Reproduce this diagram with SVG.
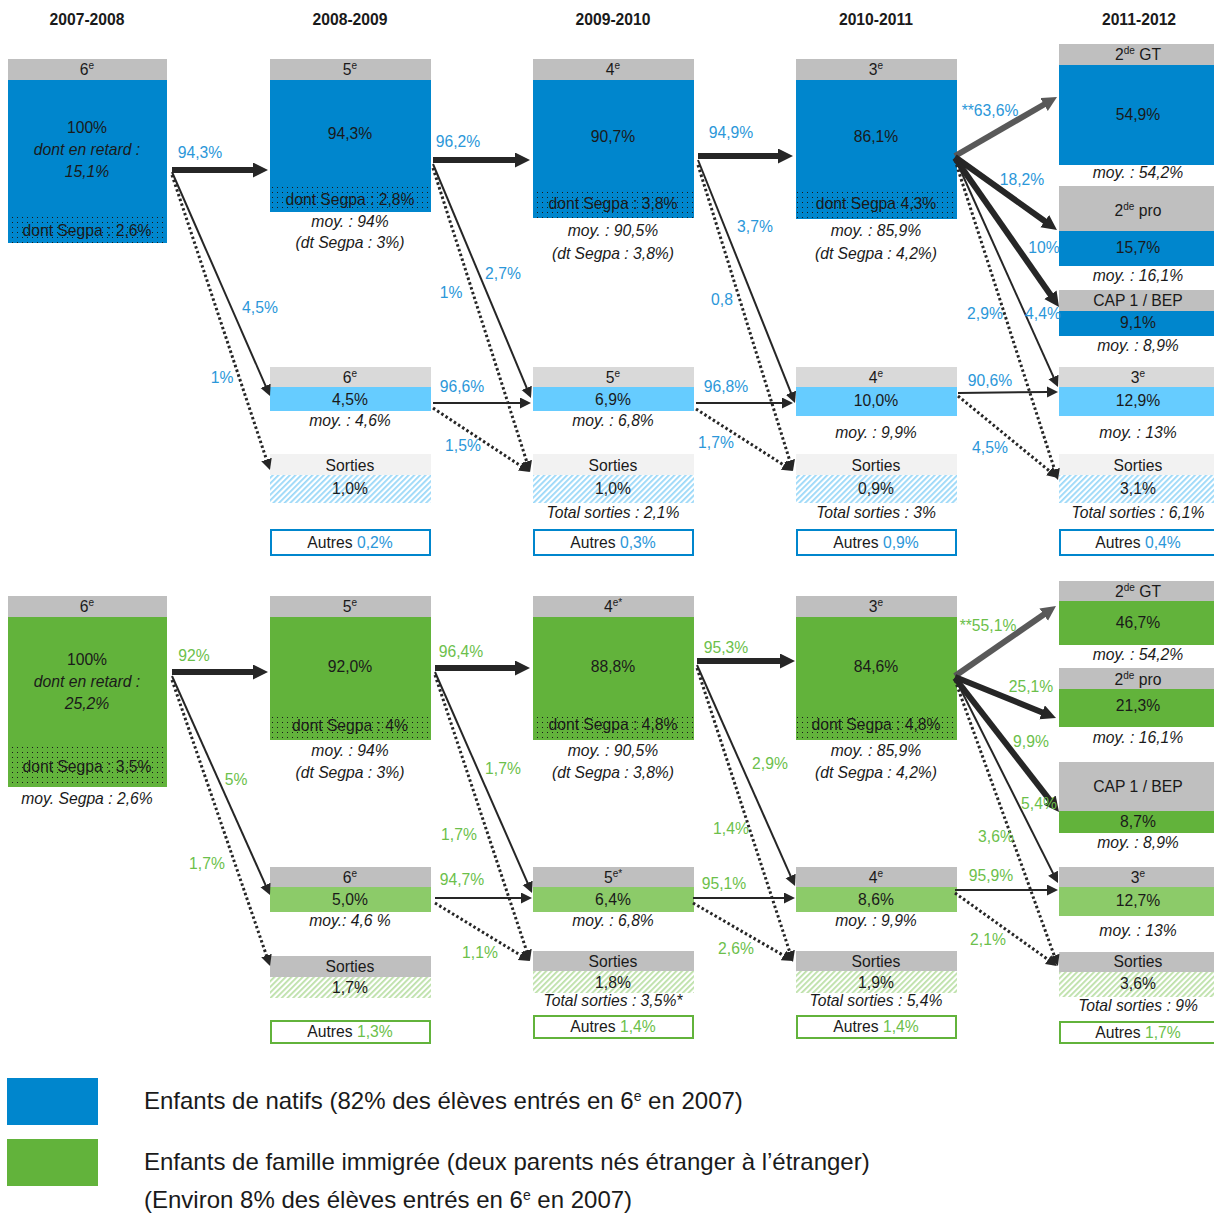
<svg xmlns="http://www.w3.org/2000/svg" width="1214" height="1214" viewBox="0 0 1214 1214">
<style>
.f{font-family:"Liberation Sans",Arial,sans-serif;font-size:15.7px;fill:#1a1a1a;text-anchor:middle}
.i{font-style:italic}
.b{font-weight:bold}
.lb{fill:#2B97D9}
.lg{fill:#6CBF4B}
.hg{fill:#BFBFBF}.hl{fill:#D9D9D9}.hx{fill:#F2F2F2}
.bl{fill:#0086CD}.lbl{fill:#66CCFF}.gr{fill:#62B33B}.lgr{fill:#8CCB69}
.ab{fill:none;stroke:#0086CD;stroke-width:2}.agr{fill:none;stroke:#62B33B;stroke-width:2}
.dots{fill:url(#dots)}.hb{fill:url(#hb)}.hgp{fill:url(#hgp)}
.tk{stroke:#262626;stroke-width:6;fill:none;marker-end:url(#mk)}
.tg{stroke:#595959;stroke-width:6;fill:none;marker-end:url(#mg)}
.tn{stroke:#262626;stroke-width:2;fill:none;marker-end:url(#mt)}
.dt{stroke:#262626;stroke-width:3;stroke-dasharray:2.5 2.5;fill:none;marker-end:url(#mt)}
.leg{font-family:"Liberation Sans",Arial,sans-serif;font-size:24px;fill:#1a1a1a}
</style>
<defs>
<pattern id="dots" width="5" height="5" patternUnits="userSpaceOnUse"><rect x="2" y="2" width="1" height="1" fill="#1a1a1a"/></pattern>
<pattern id="hb" width="4" height="4" patternUnits="userSpaceOnUse" patternTransform="rotate(45)"><rect width="4" height="4" fill="#fff"/><rect width="1.8" height="4" fill="#9AD8F8"/></pattern>
<pattern id="hgp" width="4" height="4" patternUnits="userSpaceOnUse" patternTransform="rotate(45)"><rect width="4" height="4" fill="#fff"/><rect width="1.8" height="4" fill="#BCE0A8"/></pattern>
<marker id="mk" markerUnits="userSpaceOnUse" markerWidth="16" markerHeight="16" refX="1" refY="7.5" orient="auto"><path d="M0,0 L15,7.5 L0,15 z" fill="#262626"/></marker>
<marker id="mg" markerUnits="userSpaceOnUse" markerWidth="16" markerHeight="16" refX="1" refY="7.5" orient="auto"><path d="M0,0 L15,7.5 L0,15 z" fill="#595959"/></marker>
<marker id="mt" markerUnits="userSpaceOnUse" markerWidth="12" markerHeight="12" refX="1" refY="5.5" orient="auto"><path d="M0,0 L11,5.5 L0,11 z" fill="#262626"/></marker>
</defs>
<rect width="1214" height="1214" fill="#fff"/>

<g id="years" class="f b">
<text x="87" y="25">2007-2008</text>
<text x="350" y="25">2008-2009</text>
<text x="613" y="25">2009-2010</text>
<text x="876" y="25">2010-2011</text>
<text x="1139" y="25">2011-2012</text>
</g>

<!-- TOP SECTION (blue) -->
<g id="t-c0" class="f">
<rect class="hg" x="8" y="59" width="159" height="21"/>
<rect class="bl" x="8" y="80" width="159" height="163"/>
<rect class="dots" x="8" y="217" width="159" height="26"/>
<text x="87" y="75">6<tspan font-size="10" dy="-6">e</tspan></text>
<text x="87" y="133">100%</text>
<text class="i" x="87" y="155">dont en retard :</text>
<text class="i" x="87" y="177">15,1%</text>
<text x="87" y="236">dont Segpa : 2,6%</text>
</g>
<g id="t-c1" class="f">
<rect class="hg" x="270" y="59" width="161" height="21"/>
<rect class="bl" x="270" y="80" width="161" height="132"/>
<rect class="dots" x="270" y="186" width="161" height="26"/>
<text x="350" y="75">5<tspan font-size="10" dy="-6">e</tspan></text>
<text x="350" y="139">94,3%</text>
<text x="350" y="205">dont Segpa : 2,8%</text>
<text class="i" x="350" y="227">moy. : 94%</text>
<text class="i" x="350" y="248">(dt Segpa : 3%)</text>
</g>
<g id="t-c2" class="f">
<rect class="hg" x="533" y="59" width="161" height="21"/>
<rect class="bl" x="533" y="80" width="161" height="138"/>
<rect class="dots" x="533" y="190" width="161" height="28"/>
<text x="613" y="75">4<tspan font-size="10" dy="-6">e</tspan></text>
<text x="613" y="142">90,7%</text>
<text x="613" y="209">dont Segpa : 3,8%</text>
<text class="i" x="613" y="236">moy. : 90,5%</text>
<text class="i" x="613" y="259">(dt Segpa : 3,8%)</text>
</g>
<g id="t-c3" class="f">
<rect class="hg" x="796" y="59" width="161" height="21"/>
<rect class="bl" x="796" y="80" width="161" height="139"/>
<rect class="dots" x="796" y="190" width="161" height="29"/>
<text x="876" y="75">3<tspan font-size="10" dy="-6">e</tspan></text>
<text x="876" y="142">86,1%</text>
<text x="876" y="209">dont Segpa 4,3%</text>
<text class="i" x="876" y="236">moy. : 85,9%</text>
<text class="i" x="876" y="259">(dt Segpa : 4,2%)</text>
</g>
<g id="t-gt" class="f">
<rect class="hg" x="1059" y="44" width="155" height="21"/>
<rect class="bl" x="1059" y="65" width="155" height="100"/>
<text x="1138" y="60">2<tspan font-size="10" dy="-6">de</tspan><tspan dy="6"> GT</tspan></text>
<text x="1138" y="120">54,9%</text>
<text class="i" x="1138" y="178">moy. : 54,2%</text>
</g>
<g id="t-pro" class="f">
<rect class="hg" x="1059" y="186" width="155" height="45"/>
<rect class="bl" x="1059" y="231" width="155" height="35"/>
<text x="1138" y="216">2<tspan font-size="10" dy="-6">de</tspan><tspan dy="6"> pro</tspan></text>
<text x="1138" y="253">15,7%</text>
<text class="i" x="1138" y="281">moy. : 16,1%</text>
</g>
<g id="t-cap" class="f">
<rect class="hg" x="1059" y="290" width="155" height="21"/>
<rect class="bl" x="1059" y="311" width="155" height="25"/>
<text x="1138" y="306">CAP 1 / BEP</text>
<text x="1138" y="328">9,1%</text>
<text class="i" x="1138" y="351">moy. : 8,9%</text>
</g>
<g id="t-r1" class="f">
<rect class="hl" x="270" y="367" width="161" height="20"/>
<rect class="lbl" x="270" y="387" width="161" height="24"/>
<text x="350" y="383">6<tspan font-size="10" dy="-6">e</tspan></text>
<text x="350" y="405">4,5%</text>
<text class="i" x="350" y="426">moy. : 4,6%</text>
</g>
<g id="t-r2" class="f">
<rect class="hl" x="533" y="367" width="161" height="20"/>
<rect class="lbl" x="533" y="387" width="161" height="24"/>
<text x="613" y="383">5<tspan font-size="10" dy="-6">e</tspan></text>
<text x="613" y="405">6,9%</text>
<text class="i" x="613" y="426">moy. : 6,8%</text>
</g>
<g id="t-r3" class="f">
<rect class="hl" x="796" y="367" width="161" height="20"/>
<rect class="lbl" x="796" y="387" width="161" height="29"/>
<text x="876" y="383">4<tspan font-size="10" dy="-6">e</tspan></text>
<text x="876" y="406">10,0%</text>
<text class="i" x="876" y="438">moy. : 9,9%</text>
</g>
<g id="t-r4" class="f">
<rect class="hl" x="1059" y="367" width="155" height="20"/>
<rect class="lbl" x="1059" y="387" width="155" height="29"/>
<text x="1138" y="383">3<tspan font-size="10" dy="-6">e</tspan></text>
<text x="1138" y="406">12,9%</text>
<text class="i" x="1138" y="438">moy. : 13%</text>
</g>
<g id="t-s1" class="f">
<rect class="hx" x="270" y="454" width="161" height="21"/>
<rect class="hb" x="270" y="475" width="161" height="28"/>
<text x="350" y="471">Sorties</text>
<text x="350" y="494">1,0%</text>
</g>
<g id="t-s2" class="f">
<rect class="hx" x="533" y="454" width="161" height="21"/>
<rect class="hb" x="533" y="475" width="161" height="28"/>
<text x="613" y="471">Sorties</text>
<text x="613" y="494">1,0%</text>
<text class="i" x="613" y="518">Total sorties : 2,1%</text>
</g>
<g id="t-s3" class="f">
<rect class="hx" x="796" y="454" width="161" height="21"/>
<rect class="hb" x="796" y="475" width="161" height="28"/>
<text x="876" y="471">Sorties</text>
<text x="876" y="494">0,9%</text>
<text class="i" x="876" y="518">Total sorties : 3%</text>
</g>
<g id="t-s4" class="f">
<rect class="hx" x="1059" y="454" width="155" height="21"/>
<rect class="hb" x="1059" y="475" width="155" height="28"/>
<text x="1138" y="471">Sorties</text>
<text x="1138" y="494">3,1%</text>
<text class="i" x="1138" y="518">Total sorties : 6,1%</text>
</g>
<g id="t-a1" class="f"><rect class="ab" x="271" y="530" width="159" height="25"/><text x="350" y="548">Autres <tspan class="lb">0,2%</tspan></text></g>
<g id="t-a2" class="f"><rect class="ab" x="534" y="530" width="159" height="25"/><text x="613" y="548">Autres <tspan class="lb">0,3%</tspan></text></g>
<g id="t-a3" class="f"><rect class="ab" x="797" y="530" width="159" height="25"/><text x="876" y="548">Autres <tspan class="lb">0,9%</tspan></text></g>
<g id="t-a4" class="f"><rect class="ab" x="1060" y="530" width="158" height="25"/><text x="1138" y="548">Autres <tspan class="lb">0,4%</tspan></text></g>

<!-- BOTTOM SECTION (green) -->
<g id="b-c0" class="f">
<rect class="hg" x="8" y="596" width="159" height="21"/>
<rect class="gr" x="8" y="617" width="159" height="170"/>
<rect class="dots" x="8" y="745" width="159" height="42"/>
<text x="87" y="612">6<tspan font-size="10" dy="-6">e</tspan></text>
<text x="87" y="665">100%</text>
<text class="i" x="87" y="687">dont en retard :</text>
<text class="i" x="87" y="709">25,2%</text>
<text x="87" y="772">dont Segpa : 3,5%</text>
<text class="i" x="87" y="804">moy. Segpa : 2,6%</text>
</g>
<g id="b-c1" class="f">
<rect class="hg" x="270" y="596" width="161" height="21"/>
<rect class="gr" x="270" y="617" width="161" height="123"/>
<rect class="dots" x="270" y="715" width="161" height="25"/>
<text x="350" y="612">5<tspan font-size="10" dy="-6">e</tspan></text>
<text x="350" y="672">92,0%</text>
<text x="350" y="731">dont Segpa : 4%</text>
<text class="i" x="350" y="756">moy. : 94%</text>
<text class="i" x="350" y="778">(dt Segpa : 3%)</text>
</g>
<g id="b-c2" class="f">
<rect class="hg" x="533" y="596" width="161" height="21"/>
<rect class="gr" x="533" y="617" width="161" height="123"/>
<rect class="dots" x="533" y="715" width="161" height="25"/>
<text x="613" y="612">4<tspan font-size="10" dy="-6">e*</tspan></text>
<text x="613" y="672">88,8%</text>
<text x="613" y="730">dont Segpa : 4,8%</text>
<text class="i" x="613" y="756">moy. : 90,5%</text>
<text class="i" x="613" y="778">(dt Segpa : 3,8%)</text>
</g>
<g id="b-c3" class="f">
<rect class="hg" x="796" y="596" width="161" height="21"/>
<rect class="gr" x="796" y="617" width="161" height="123"/>
<rect class="dots" x="796" y="715" width="161" height="25"/>
<text x="876" y="612">3<tspan font-size="10" dy="-6">e</tspan></text>
<text x="876" y="672">84,6%</text>
<text x="876" y="730">dont Segpa : 4,8%</text>
<text class="i" x="876" y="756">moy. : 85,9%</text>
<text class="i" x="876" y="778">(dt Segpa : 4,2%)</text>
</g>
<g id="b-gt" class="f">
<rect class="hg" x="1059" y="581" width="155" height="20"/>
<rect class="gr" x="1059" y="601" width="155" height="44"/>
<text x="1138" y="597">2<tspan font-size="10" dy="-6">de</tspan><tspan dy="6"> GT</tspan></text>
<text x="1138" y="628">46,7%</text>
<text class="i" x="1138" y="660">moy. : 54,2%</text>
</g>
<g id="b-pro" class="f">
<rect class="hg" x="1059" y="668" width="155" height="21"/>
<rect class="gr" x="1059" y="689" width="155" height="38"/>
<text x="1138" y="685">2<tspan font-size="10" dy="-6">de</tspan><tspan dy="6"> pro</tspan></text>
<text x="1138" y="711">21,3%</text>
<text class="i" x="1138" y="743">moy. : 16,1%</text>
</g>
<g id="b-cap" class="f">
<rect class="hg" x="1059" y="762" width="155" height="49"/>
<rect class="gr" x="1059" y="811" width="155" height="22"/>
<text x="1138" y="792">CAP 1 / BEP</text>
<text x="1138" y="827">8,7%</text>
<text class="i" x="1138" y="848">moy. : 8,9%</text>
</g>
<g id="b-r1" class="f">
<rect class="hg" x="270" y="867" width="161" height="20"/>
<rect class="lgr" x="270" y="887" width="161" height="25"/>
<text x="350" y="883">6<tspan font-size="10" dy="-6">e</tspan></text>
<text x="350" y="905">5,0%</text>
<text class="i" x="350" y="926">moy.: 4,6 %</text>
</g>
<g id="b-r2" class="f">
<rect class="hg" x="533" y="867" width="161" height="20"/>
<rect class="lgr" x="533" y="887" width="161" height="25"/>
<text x="613" y="883">5<tspan font-size="10" dy="-6">e*</tspan></text>
<text x="613" y="905">6,4%</text>
<text class="i" x="613" y="926">moy. : 6,8%</text>
</g>
<g id="b-r3" class="f">
<rect class="hg" x="796" y="867" width="161" height="20"/>
<rect class="lgr" x="796" y="887" width="161" height="25"/>
<text x="876" y="883">4<tspan font-size="10" dy="-6">e</tspan></text>
<text x="876" y="905">8,6%</text>
<text class="i" x="876" y="926">moy. : 9,9%</text>
</g>
<g id="b-r4" class="f">
<rect class="hg" x="1059" y="867" width="155" height="20"/>
<rect class="lgr" x="1059" y="887" width="155" height="29"/>
<text x="1138" y="883">3<tspan font-size="10" dy="-6">e</tspan></text>
<text x="1138" y="906">12,7%</text>
<text class="i" x="1138" y="936">moy. : 13%</text>
</g>
<g id="b-s1" class="f">
<rect class="hg" x="270" y="956" width="161" height="21"/>
<rect class="hgp" x="270" y="977" width="161" height="21"/>
<text x="350" y="972">Sorties</text>
<text x="350" y="993">1,7%</text>
</g>
<g id="b-s2" class="f">
<rect class="hg" x="533" y="951" width="161" height="20"/>
<rect class="hgp" x="533" y="971" width="161" height="22"/>
<text x="613" y="967">Sorties</text>
<text x="613" y="988">1,8%</text>
<text class="i" x="613" y="1006">Total sorties : 3,5%*</text>
</g>
<g id="b-s3" class="f">
<rect class="hg" x="796" y="951" width="161" height="20"/>
<rect class="hgp" x="796" y="971" width="161" height="22"/>
<text x="876" y="967">Sorties</text>
<text x="876" y="988">1,9%</text>
<text class="i" x="876" y="1006">Total sorties : 5,4%</text>
</g>
<g id="b-s4" class="f">
<rect class="hg" x="1059" y="952" width="155" height="20"/>
<rect class="hgp" x="1059" y="972" width="155" height="25"/>
<text x="1138" y="967">Sorties</text>
<text x="1138" y="989">3,6%</text>
<text class="i" x="1138" y="1011">Total sorties : 9%</text>
</g>
<g id="b-a1" class="f"><rect class="agr" x="271" y="1021" width="159" height="22"/><text x="350" y="1037">Autres <tspan class="lg">1,3%</tspan></text></g>
<g id="b-a2" class="f"><rect class="agr" x="534" y="1016" width="159" height="22"/><text x="613" y="1032">Autres <tspan class="lg">1,4%</tspan></text></g>
<g id="b-a3" class="f"><rect class="agr" x="797" y="1016" width="159" height="22"/><text x="876" y="1032">Autres <tspan class="lg">1,4%</tspan></text></g>
<g id="b-a4" class="f"><rect class="agr" x="1060" y="1022" width="158" height="21"/><text x="1138" y="1038">Autres <tspan class="lg">1,7%</tspan></text></g>

<g id="connectors">
<line class="tk" x1="172" y1="170" x2="254" y2="170"/>
<line class="tn" x1="172" y1="172" x2="266" y2="386.8"/>
<line class="dt" x1="172" y1="175" x2="266.8" y2="460.5"/>
<line class="tk" x1="433" y1="160" x2="516" y2="160"/>
<line class="tn" x1="433" y1="164" x2="527.1" y2="388.8"/>
<line class="dt" x1="433" y1="168" x2="527" y2="462.5"/>
<line class="tn" x1="433" y1="403" x2="521" y2="403"/>
<line class="dt" x1="433" y1="408" x2="521.7" y2="466.5"/>
<line class="tk" x1="698" y1="156" x2="779" y2="156"/>
<line class="tn" x1="698" y1="160" x2="791.3" y2="393.7"/>
<line class="dt" x1="698" y1="165" x2="790" y2="461.5"/>
<line class="tn" x1="696" y1="403" x2="783" y2="403"/>
<line class="dt" x1="696" y1="409" x2="784.6" y2="465.6"/>
<line class="tg" x1="955" y1="156" x2="1044.9" y2="104"/>
<line class="tk" x1="955" y1="157" x2="1045.6" y2="221.8"/>
<line class="tk" x1="955" y1="158" x2="1051" y2="295.5"/>
<line class="tn" x1="955" y1="158" x2="1053.9" y2="377.9"/>
<line class="dt" x1="955" y1="160" x2="1054.9" y2="470.5"/>
<line class="tn" x1="958" y1="393" x2="1048" y2="392"/>
<line class="dt" x1="958" y1="396" x2="1050.3" y2="471.7"/>

<line class="tk" x1="172" y1="672" x2="254" y2="672"/>
<line class="tn" x1="172" y1="676" x2="265.9" y2="885.9"/>
<line class="dt" x1="172" y1="680" x2="266.8" y2="956.5"/>
<line class="tk" x1="435" y1="668" x2="516" y2="668"/>
<line class="tn" x1="435" y1="672" x2="528" y2="883.8"/>
<line class="dt" x1="435" y1="675" x2="526.8" y2="951.5"/>
<line class="tn" x1="435" y1="898" x2="522" y2="898"/>
<line class="dt" x1="435" y1="903" x2="521.5" y2="955.8"/>
<line class="tk" x1="697" y1="661" x2="781" y2="661"/>
<line class="tn" x1="697" y1="665" x2="791" y2="876.9"/>
<line class="dt" x1="697" y1="668" x2="789.9" y2="952.5"/>
<line class="tn" x1="693" y1="898" x2="785" y2="898"/>
<line class="dt" x1="693" y1="903" x2="784.4" y2="956"/>
<line class="tg" x1="955" y1="676" x2="1044.5" y2="614"/>
<line class="tk" x1="955" y1="677" x2="1043" y2="712.7"/>
<line class="tk" x1="955" y1="678" x2="1050.4" y2="800.9"/>
<line class="tn" x1="955" y1="678" x2="1053.5" y2="874.1"/>
<line class="dt" x1="955" y1="680" x2="1054.6" y2="956.6"/>
<line class="tn" x1="955" y1="890" x2="1048" y2="890"/>
<line class="dt" x1="955" y1="893" x2="1048.9" y2="960.2"/>
</g>

<g id="labels-top" class="f lb">
<text x="200" y="158">94,3%</text>
<text x="260" y="313">4,5%</text>
<text x="222" y="383">1%</text>
<text x="458" y="147">96,2%</text>
<text x="503" y="279">2,7%</text>
<text x="451" y="298">1%</text>
<text x="462" y="392">96,6%</text>
<text x="463" y="451">1,5%</text>
<text x="731" y="138">94,9%</text>
<text x="755" y="232">3,7%</text>
<text x="722" y="305">0,8</text>
<text x="726" y="392">96,8%</text>
<text x="716" y="448">1,7%</text>
<text x="990" y="116">**63,6%</text>
<text x="1022" y="185">18,2%</text>
<text x="1044" y="253">10%</text>
<text x="985" y="319">2,9%</text>
<text x="1043" y="319">4,4%</text>
<text x="990" y="386">90,6%</text>
<text x="990" y="453">4,5%</text>
</g>
<g id="labels-bottom" class="f lg">
<text x="194" y="661">92%</text>
<text x="236" y="785">5%</text>
<text x="207" y="869">1,7%</text>
<text x="461" y="657">96,4%</text>
<text x="503" y="774">1,7%</text>
<text x="459" y="840">1,7%</text>
<text x="462" y="885">94,7%</text>
<text x="480" y="958">1,1%</text>
<text x="726" y="653">95,3%</text>
<text x="770" y="769">2,9%</text>
<text x="731" y="834">1,4%</text>
<text x="724" y="889">95,1%</text>
<text x="736" y="954">2,6%</text>
<text x="988" y="631">**55,1%</text>
<text x="1031" y="692">25,1%</text>
<text x="1031" y="747">9,9%</text>
<text x="1039" y="809">5,4%</text>
<text x="996" y="842">3,6%</text>
<text x="991" y="881">95,9%</text>
<text x="988" y="945">2,1%</text>
</g>

<g id="legend">
<rect class="bl" x="7" y="1078" width="91" height="47"/>
<rect class="gr" x="7" y="1139" width="91" height="47"/>
<text class="leg" x="144" y="1109">Enfants de natifs (82% des élèves entrés en 6<tspan font-size="14" dy="-8">e</tspan><tspan dy="8"> en 2007)</tspan></text>
<text class="leg" x="144" y="1170">Enfants de famille immigrée (deux parents nés étranger à l’étranger)</text>
<text class="leg" x="144" y="1208">(Environ 8% des élèves entrés en 6<tspan font-size="14" dy="-8">e</tspan><tspan dy="8"> en 2007)</tspan></text>
</g>
</svg>
